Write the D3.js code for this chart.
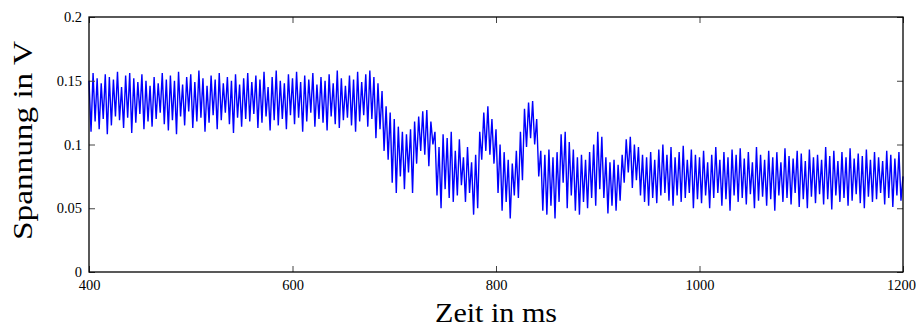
<!DOCTYPE html>
<html>
<head>
<meta charset="utf-8">
<script src="https://cdn.jsdelivr.net/npm/d3@7"></script>
<style>
  html, body { margin: 0; padding: 0; background: #fff; }
  svg { display: block; }
  text { font-family: "Liberation Serif", "DejaVu Serif", serif; fill: #000; }
</style>
</head>
<body>
<svg id="chart" width="916" height="329"></svg>
<script>
// Messreihe: Startzeit und Abtastschritt in ms
const startMs = 400;
const stepMs = 2;

// Spannung in V, je 2 ms ein Wert (400 ms ... 1200 ms)
const spannung = [
  .150,.110,.156,.118,.152,.112,.148,.120,.155,.108,
  .153,.115,.151,.122,.157,.119,.145,.113,.154,.121,
  .156,.109,.152,.117,.149,.124,.155,.112,.150,.118,
  .146,.114,.153,.120,.148,.125,.156,.116,.151,.111,
  .154,.119,.150,.108,.157,.122,.147,.115,.153,.126,
  .155,.113,.149,.118,.158,.121,.152,.110,.146,.117,
  .154,.123,.151,.112,.156,.119,.148,.125,.153,.116,
  .150,.109,.155,.121,.147,.114,.152,.120,.156,.118,
  .149,.124,.154,.113,.151,.117,.157,.122,.145,.111,
  .153,.119,.158,.115,.150,.120,.148,.112,.155,.123,
  .152,.116,.157,.121,.149,.110,.154,.118,.151,.125,
  .156,.114,.147,.120,.153,.117,.150,.111,.155,.122,
  .148,.116,.158,.113,.152,.119,.146,.121,.154,.115,
  .151,.110,.157,.118,.149,.123,.155,.114,.158,.120,
  .153,.105,.148,.112,.142,.095,.130,.088,.125,.070,
  .120,.062,.114,.075,.110,.065,.108,.078,.112,.062,
  .118,.085,.122,.095,.126,.092,.127,.083,.118,.100,
  .110,.060,.098,.050,.108,.065,.105,.058,.110,.055,
  .095,.060,.104,.068,.090,.055,.098,.062,.086,.045,
  .092,.050,.110,.088,.125,.095,.130,.092,.120,.085,
  .112,.062,.100,.048,.094,.055,.088,.042,.085,.060,
  .095,.058,.110,.072,.128,.098,.133,.105,.134,.100,
  .120,.075,.095,.048,.092,.045,.096,.052,.090,.042,
  .094,.055,.108,.070,.110,.050,.102,.060,.096,.048,
  .090,.045,.092,.055,.088,.050,.094,.058,.100,.052,
  .110,.065,.106,.058,.090,.046,.086,.052,.088,.048,
  .084,.056,.092,.070,.104,.078,.106,.066,.100,.072,
  .098,.060,.092,.055,.090,.052,.094,.058,.088,.054,
  .096,.060,.100,.062,.092,.056,.098,.052,.090,.060,
  .094,.055,.099,.058,.088,.062,.096,.050,.092,.057,
  .090,.054,.095,.060,.086,.050,.092,.058,.098,.062,
  .088,.052,.094,.057,.090,.048,.096,.060,.092,.055,
  .097,.058,.089,.053,.094,.061,.086,.050,.098,.056,
  .092,.059,.088,.052,.095,.057,.090,.048,.094,.060,
  .086,.055,.097,.058,.091,.053,.089,.062,.095,.051,
  .093,.057,.087,.050,.096,.059,.090,.054,.092,.061,
  .088,.053,.098,.057,.091,.049,.095,.060,.087,.055,
  .094,.058,.090,.052,.097,.056,.089,.061,.093,.054,
  .091,.050,.096,.059,.088,.055,.094,.057,.090,.062,
  .087,.053,.095,.058,.092,.051,.089,.060,.094,.056,
  .075
];

// Achsenbeschriftungen
const xTicks = [400, 600, 800, 1000, 1200];
const yTicks = [0, 0.05, 0.1, 0.15, 0.2];
const xTitle = "Zeit in ms";
const yTitle = "Spannung in V";

const svg = d3.select("#chart");
const m = { left: 89, right: 903, top: 17, bottom: 272 };

const x = d3.scaleLinear().domain([400, 1200]).range([m.left, m.right]);
const y = d3.scaleLinear().domain([0, 0.2]).range([m.bottom, m.top]);

const punkte = spannung.map((v, i) => [startMs + i * stepMs, v]);

// Messkurve
svg.append("path")
  .datum(punkte)
  .attr("fill", "none")
  .attr("stroke", "#0000ff")
  .attr("stroke-width", 1.4)
  .attr("stroke-linejoin", "bevel")
  .attr("d", d3.line().x(d => x(d[0])).y(d => y(d[1])));

const tickLen = 6;
const fmtY = d => (d === 0 ? "0" : String(+d.toFixed(2)));

// Achsen mit nach innen zeigenden Strichen
const axBottom = svg.append("g").attr("transform", `translate(0,${m.bottom})`)
  .call(d3.axisBottom(x).tickValues(xTicks).tickSizeInner(-tickLen).tickSizeOuter(0).tickPadding(8).tickFormat(d3.format("d")));
const axTop = svg.append("g").attr("transform", `translate(0,${m.top})`)
  .call(d3.axisTop(x).tickValues(xTicks).tickSizeInner(-tickLen).tickSizeOuter(0).tickFormat(""));
const axLeft = svg.append("g").attr("transform", `translate(${m.left},0)`)
  .call(d3.axisLeft(y).tickValues(yTicks).tickSizeInner(-tickLen).tickSizeOuter(0).tickPadding(7).tickFormat(fmtY));
const axRight = svg.append("g").attr("transform", `translate(${m.right},0)`)
  .call(d3.axisRight(y).tickValues(yTicks).tickSizeInner(-tickLen).tickSizeOuter(0).tickFormat(""));

[axBottom, axTop, axLeft, axRight].forEach(g => {
  g.select(".domain").remove();
  g.selectAll(".tick line").attr("stroke", "#444").attr("stroke-width", 1);
  g.selectAll("text").attr("font-family", "Liberation Serif, serif").attr("font-size", 14.5).attr("fill", "#000");
});

// letzte Zeitbeschriftung bleibt innerhalb der Fläche
axBottom.selectAll(".tick text").filter(d => d === 1200).attr("dx", -2);

// Rahmen
svg.append("rect")
  .attr("x", m.left).attr("y", m.top)
  .attr("width", m.right - m.left).attr("height", m.bottom - m.top)
  .attr("fill", "none").attr("stroke", "#000").attr("stroke-width", 1.3);

// Achsentitel
svg.append("text")
  .attr("x", (m.left + m.right) / 2).attr("y", 322)
  .attr("text-anchor", "middle").attr("font-size", 27)
  .attr("textLength", 122).attr("lengthAdjust", "spacingAndGlyphs")
  .text(xTitle);

svg.append("text")
  .attr("transform", `translate(32,${(m.top + m.bottom) / 2 - 4}) rotate(-90)`)
  .attr("text-anchor", "middle").attr("font-size", 27)
  .attr("textLength", 199).attr("lengthAdjust", "spacingAndGlyphs")
  .text(yTitle);
</script>
</body>
</html>
